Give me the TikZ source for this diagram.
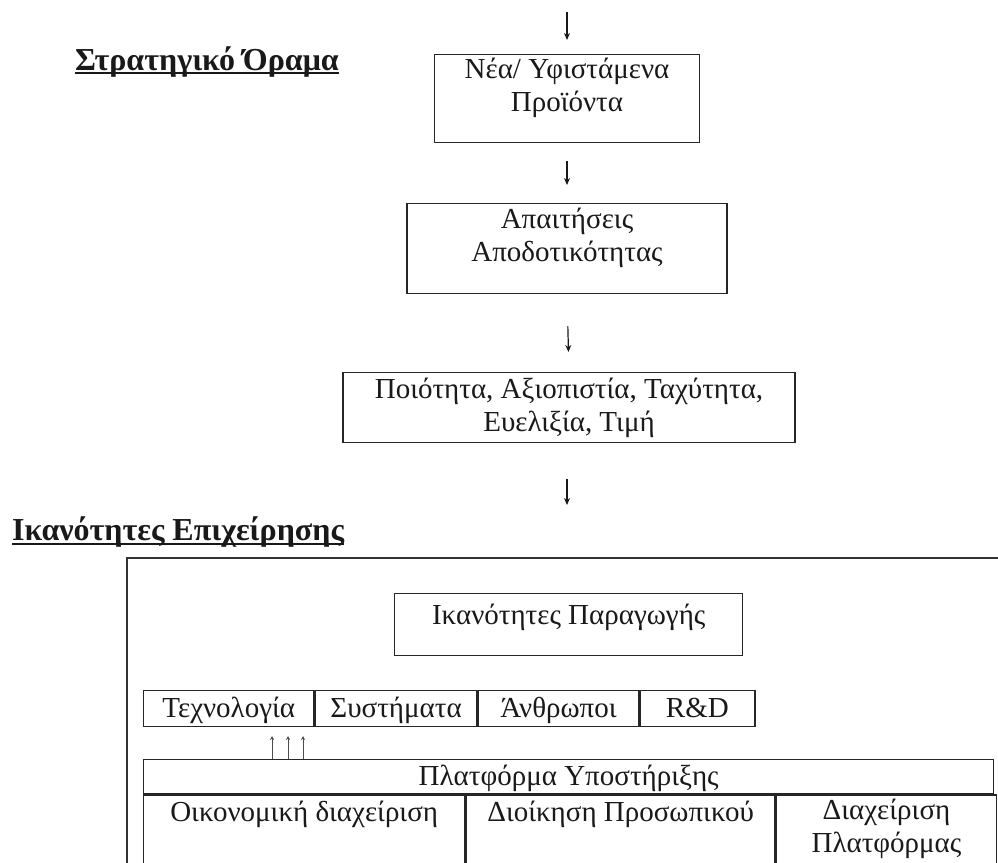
\documentclass[tikz,border=0pt]{standalone}
\usepackage{fontspec}
\setmainfont{Liberation Serif}
\usetikzlibrary{arrows.meta}
\begin{document}
\begin{tikzpicture}[x=1pt,y=-1pt,
  box/.style={draw=black!85, line width=1.4pt, rectangle, inner sep=0pt},
  txt/.style={font=\fontsize{29}{33}\selectfont, align=center, inner sep=0pt, text=black!90},
  head/.style={font=\fontsize{32}{36}\selectfont\bfseries, inner sep=0pt, text=black!90},
  uline/.style={line width=2pt, black!90},
  arr/.style={line width=1.2pt, black!90, -{Stealth[length=7pt,width=6pt]}},
  tinyarr/.style={line width=0.9pt, black!70, -{Stealth[length=4pt,width=4pt]}},
]
\clip (0,0) rectangle (998,862);
\fill[white] (0,0) rectangle (998,862);

% headings
\node[head, anchor=base west] (h1) at (75,70) {Στρατηγικό Όραμα};
\draw[uline] ([yshift=-3pt]h1.base west) -- ([yshift=-3pt]h1.base east);
\node[head, anchor=base west] (h2) at (12,540) {Ικανότητες Επιχείρησης};
\draw[uline] ([yshift=-4pt]h2.base west) -- ([yshift=-4pt]h2.base east);

% top chain
\coordinate (top) at (567,12);
\node[box, minimum width=265pt, minimum height=88pt, anchor=north] (b1) at (567,54) {};
\node[txt] (t1) at ([yshift=-34pt]b1.north) {Νέα/ Υφιστάμενα\\Προϊόντα};
\node[box, minimum width=320pt, minimum height=90pt, anchor=north] (b2) at (567,203) {};
\node[txt] (t2) at ([yshift=-35pt]b2.north) {Απαιτήσεις\\Αποδοτικότητας};
\node[box, minimum width=452pt, minimum height=70pt, anchor=north] (b3) at (569,372) {};
\node[txt] (t3) at (b3.center) {Ποιότητα, Αξιοπιστία, Ταχύτητα,\\Ευελιξία, Τιμή};
\coordinate (a4end) at (567,505);

\draw[arr] (top) -- ([yshift=14pt]b1.north);
\draw[arr, shorten <=18pt, shorten >=18pt] (b1.south) -- (b2.north);
\draw[arr, shorten <=32pt, shorten >=20pt] (b2.south) -- (b3.north);
\draw[arr, shorten <=36pt] (b3.south -| a4end) -- (a4end);

% outer frame
\draw[line width=1.2pt, black!80] (998,558) -- (127,558) -- (127,870);

% production capabilities
\node[box, minimum width=348pt, minimum height=62pt, anchor=north west] (prod) at (394,593) {};
\node[txt, anchor=base] (tprod) at ([yshift=-31pt]prod.north) {Ικανότητες Παραγωγής};

% row of four
\node[box, minimum width=170pt, minimum height=36pt, anchor=north west] (r1) at (143,690) {};
\node[box, minimum width=162pt, minimum height=36pt, anchor=west] (r2) at (r1.east) {};
\node[box, minimum width=160pt, minimum height=36pt, anchor=west] (r3) at (r2.east) {};
\node[box, minimum width=115pt, minimum height=36pt, anchor=west] (r4) at (r3.east) {};
\node[txt, anchor=base] at ([yshift=-27pt]r1.north) {Τεχνολογία};
\node[txt, anchor=base] at ([yshift=-27pt]r2.north) {Συστήματα};
\node[txt, anchor=base] at ([yshift=-27pt]r3.north) {Άνθρωποι};
\node[txt, anchor=base] at ([yshift=-27pt]r4.north) {R\&D};

% support platform table
\node[box, minimum width=850pt, minimum height=34pt, anchor=north west] (hdr) at (143,759) {};
\node[txt, anchor=base] at ([yshift=-26pt]hdr.north) {Πλατφόρμα Υποστήριξης};
\node[box, minimum width=321pt, minimum height=100pt, anchor=north west] (c1) at (hdr.south west) {};
\node[box, minimum width=309pt, minimum height=100pt, anchor=north west] (c2) at (c1.north east) {};
\node[box, minimum width=220pt, minimum height=100pt, anchor=north west] (c3) at (c2.north east) {};
\node[txt, anchor=base] at ([yshift=-27pt]c1.north) {Οικονομική διαχείριση};
\node[txt, anchor=base] at ([yshift=-27pt]c2.north) {Διοίκηση Προσωπικού};
\node[txt, anchor=base] at ([yshift=-58pt]c3.north) {Διαχείριση\\Πλατφόρμας};

% three small up arrows
\coordinate (u1) at (272,736);
\coordinate (u2) at (288,736);
\coordinate (u3) at (303,736);
\draw[tinyarr] (hdr.north -| u1) -- (u1);
\draw[tinyarr] (hdr.north -| u2) -- (u2);
\draw[tinyarr] (hdr.north -| u3) -- (u3);
\end{tikzpicture}
\end{document}
